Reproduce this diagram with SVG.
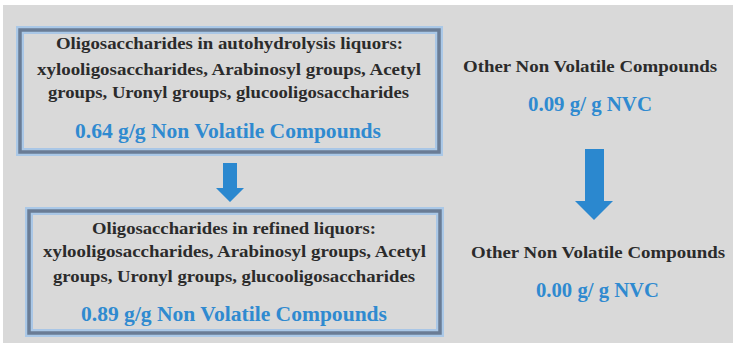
<svg xmlns="http://www.w3.org/2000/svg" width="736" height="343" viewBox="0 0 736 343">
<defs>
<style>
.bg{fill:#d9d9d9}
.glow{fill:none;stroke:#9dc3ea;stroke-width:8;opacity:0.8}
.box{fill:none;stroke:#6a7c95;stroke-width:3.5}
.inner{fill:none;stroke:#a9c6e6;stroke-width:1}
.t{font-family:"Liberation Serif","DejaVu Serif",serif;font-weight:bold;font-size:17.5px;fill:#2b2b2b;text-anchor:middle}
.b{font-family:"Liberation Serif","DejaVu Serif",serif;font-weight:bold;font-size:20px;fill:#2f8ad0;text-anchor:middle}
.arrow{fill:#2b88cf}
</style>
</defs>
<rect class="bg" x="3" y="5" width="730" height="338"/>
<g id="box1">
<rect class="glow" x="20" y="30" width="419" height="122"/>
<rect class="box" x="20" y="30" width="419" height="122"/>
<rect class="inner" x="23.5" y="33.5" width="412" height="115"/>
<text class="t" x="229.5" y="49" textLength="347" lengthAdjust="spacingAndGlyphs">Oligosaccharides in autohydrolysis liquors:</text>
<text class="t" x="229" y="75" textLength="384" lengthAdjust="spacingAndGlyphs">xylooligosaccharides, Arabinosyl groups, Acetyl</text>
<text class="t" x="228.5" y="98" textLength="361" lengthAdjust="spacingAndGlyphs">groups, Uronyl groups, glucooligosaccharides</text>
<text class="b" x="228" y="138" textLength="306" lengthAdjust="spacingAndGlyphs">0.64 g/g Non Volatile Compounds</text>
</g>
<g id="box2">
<rect class="glow" x="29" y="211" width="411" height="122"/>
<rect class="box" x="29" y="211" width="411" height="122"/>
<rect class="inner" x="32.5" y="214.5" width="404" height="115"/>
<text class="t" x="234" y="234" textLength="284" lengthAdjust="spacingAndGlyphs">Oligosaccharides in refined liquors:</text>
<text class="t" x="234.5" y="257" textLength="383" lengthAdjust="spacingAndGlyphs">xylooligosaccharides, Arabinosyl groups, Acetyl</text>
<text class="t" x="234" y="282" textLength="362" lengthAdjust="spacingAndGlyphs">groups, Uronyl groups, glucooligosaccharides</text>
<text class="b" x="234" y="321" textLength="306" lengthAdjust="spacingAndGlyphs">0.89 g/g Non Volatile Compounds</text>
</g>
<g id="other1">
<text class="t" x="590" y="72" textLength="254" lengthAdjust="spacingAndGlyphs">Other Non Volatile Compounds</text>
<text class="b" x="590" y="111" textLength="124" lengthAdjust="spacingAndGlyphs">0.09 g/ g NVC</text>
</g>
<g id="other2">
<text class="t" x="598" y="258" textLength="254" lengthAdjust="spacingAndGlyphs">Other Non Volatile Compounds</text>
<text class="b" x="597.5" y="297" textLength="123" lengthAdjust="spacingAndGlyphs">0.00 g/ g NVC</text>
</g>
<g id="connectors">
<polygon class="arrow" points="223,163 237,163 237,188 244,188 230,202 216,188 223,188"/>
<polygon class="arrow" points="585,149 604,149 604,201 613,201 594,220 575,201 585,201"/>
</g>
</svg>
